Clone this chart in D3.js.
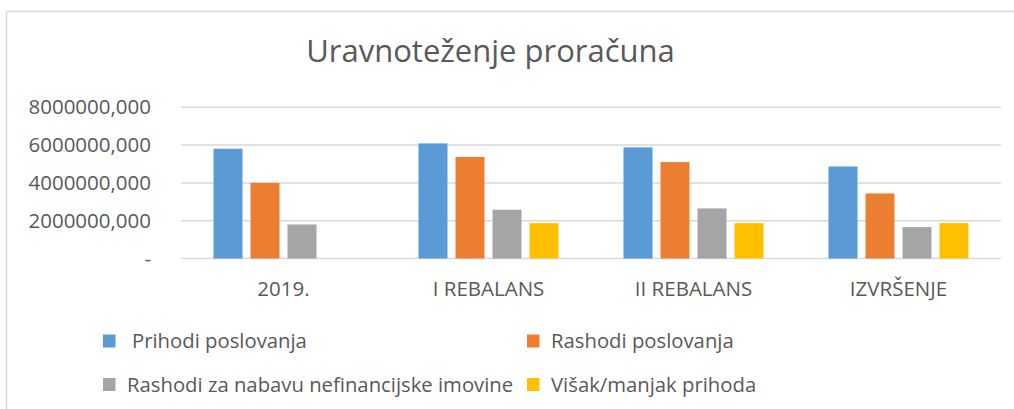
<!DOCTYPE html>
<html><head><meta charset="utf-8">
<script src="https://cdn.jsdelivr.net/npm/d3@7"></script>
<style>
html,body{margin:0;padding:0;background:#fff;}
svg{display:block;}
text{font-family:"Open Sans",sans-serif;fill:#595959;}
</style></head>
<body>
<svg id="chart" width="1014" height="409"></svg>
<script>
const categories = ["2019.", "I REBALANS", "II REBALANS", "IZVRŠENJE"];
const seriesNames = ["Prihodi poslovanja", "Rashodi poslovanja", "Rashodi za nabavu nefinancijske imovine", "Višak/manjak prihoda"];
const seriesColors = ["#5b9bd5", "#ed7d31", "#a5a5a5", "#ffc000"];
const prihodiPoslovanja = [5810000, 6090000, 5880000, 4870000];
const rashodiPoslovanja = [4000000, 5370000, 5100000, 3440000];
const rashodiNefinancijske = [1800000, 2580000, 2650000, 1660000];
const visakManjak = [0, 1870000, 1870000, 1870000];
const yTicks = [0, 2000000, 4000000, 6000000, 8000000];
const yTickLabels = ["-", "2000000,000", "4000000,000", "6000000,000", "8000000,000"];
const title = "Uravnoteženje proračuna";

const seriesValues = [prihodiPoslovanja, rashodiPoslovanja, rashodiNefinancijske, visakManjak];

const svg = d3.select("#chart");
const W = 1014, H = 409;

// frame
svg.append("line").attr("x1", 6.5).attr("x2", 6.5).attr("y1", 11.5).attr("y2", H).attr("stroke", "#d9d9d9").attr("stroke-width", 1.5);
svg.append("line").attr("x1", 6.5).attr("x2", W).attr("y1", 11.5).attr("y2", 11.5).attr("stroke", "#d9d9d9").attr("stroke-width", 1.5);

// title
svg.append("text").attr("x", 490.5).attr("y", 61.5).attr("text-anchor", "middle")
  .style("font-size", "31px").text(title);

const x0 = d3.scaleBand().domain(categories).range([181, 1001]).padding(0);
const x1 = d3.scaleBand().domain(seriesNames).range([-70, 70]).paddingInner(8 / 37).paddingOuter(0);
const y = d3.scaleLinear().domain([0, 8000000]).range([258.5, 107.3]);

// gridlines
svg.append("g").selectAll("line").data(yTicks).join("line")
  .attr("x1", 181).attr("x2", 1001)
  .attr("y1", d => y(d)).attr("y2", d => y(d))
  .attr("stroke", "#d9d9d9").attr("stroke-width", 1.5);

// y tick labels
svg.append("g").selectAll("text").data(yTicks).join("text")
  .attr("x", 151).attr("y", d => y(d)).attr("dy", "0.35em")
  .attr("text-anchor", "end").style("font-size", "20.5px")
  .text((d, i) => yTickLabels[i]);

// bars
const groups = svg.append("g").selectAll("g").data(categories).join("g")
  .attr("transform", d => `translate(${x0(d) + x0.bandwidth() / 2},0)`);
groups.selectAll("rect").data((c, ci) => seriesNames.map((s, si) => ({ s, si, v: seriesValues[si][ci] })))
  .join("rect")
  .filter(d => d.v > 0)
  .attr("x", d => x1(d.s)).attr("width", x1.bandwidth())
  .attr("y", d => y(d.v)).attr("height", d => y(0) - y(d.v))
  .attr("fill", d => seriesColors[d.si]);

// x labels
svg.append("g").selectAll("text").data(categories).join("text")
  .attr("x", d => x0(d) + x0.bandwidth() / 2).attr("y", 296)
  .attr("text-anchor", "middle").style("font-size", "20.5px").text(d => d);

// legend
const legCol = d3.scaleOrdinal().domain([0, 1]).range([103, 527]);
const legRow = d3.scaleOrdinal().domain([0, 1]).range([341, 384.5]);
const leg = svg.append("g").selectAll("g").data(seriesNames).join("g")
  .attr("transform", (d, i) => `translate(${legCol(i % 2)},${legRow(Math.floor(i / 2))})`);
leg.append("rect").attr("x", 0).attr("y", -6.5).attr("width", 12.5).attr("height", 13)
  .attr("fill", (d, i) => seriesColors[i]);
leg.append("text").attr("x", (d, i) => i === 0 ? 29 : 24).attr("y", 0).attr("dy", "0.35em")
  .style("font-size", "20.3px").text(d => d);
</script>
</body></html>
